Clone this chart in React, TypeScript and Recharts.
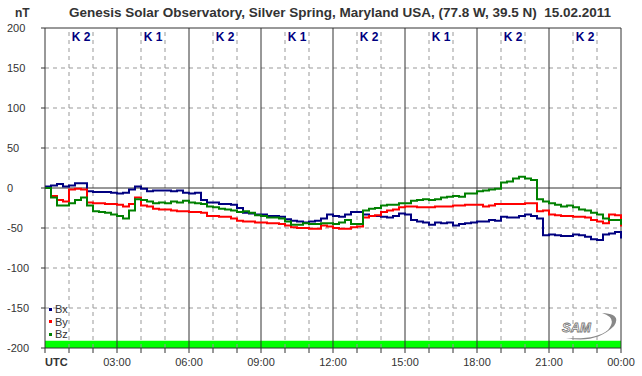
import { LineChart, Line, XAxis, YAxis, ReferenceLine, ReferenceArea } from 'recharts';

// 15-minute samples from 00:00 to 24:00 UTC (nT)
const bx = [2, 3, 5, 2, 3, 6, 6, -4, -5, -5, -5, -6, -7, -6, -2, 2, -1, -4, -3, -3, -3, -4, -3, -6, -7,
  -6, -15, -18, -18, -20, -20, -21, -25, -31, -32, -33, -33, -35, -35, -36, -39, -41, -42, -43, -42, -41, -38, -33, -35,
  -36, -33, -30, -30, -33, -35, -35, -36, -37, -35, -32, -33, -40, -42, -43, -46, -43, -44, -43, -47, -45, -44, -43, -42,
  -42, -40, -41, -36, -37, -37, -35, -33, -35, -38, -59, -58, -59, -60, -60, -58, -59, -61, -64, -65, -58, -57, -55, -63];
const by = [0, -10, -15, -17, -2, -1, -2, -18, -19, -19, -20, -20, -21, -23, -20, -12, -22, -23, -26, -27, -27, -28, -29, -29, -30,
  -30, -31, -35, -35, -36, -36, -38, -41, -42, -42, -43, -43, -44, -44, -45, -47, -49, -50, -50, -51, -51, -47, -48, -50,
  -51, -51, -49, -48, -37, -35, -34, -30, -28, -27, -24, -23, -23, -24, -24, -24, -23, -23, -23, -22, -22, -21, -21, -21,
  -23, -22, -20, -20, -20, -20, -20, -19, -19, -29, -28, -33, -34, -35, -35, -36, -36, -37, -40, -42, -44, -33, -34, -48];
const bz = [0, -12, -22, -22, -19, -15, -12, -22, -29, -30, -31, -33, -35, -38, -28, -14, -15, -17, -19, -18, -19, -17, -18, -16, -18,
  -19, -20, -23, -24, -26, -27, -28, -30, -29, -31, -34, -35, -37, -37, -38, -42, -46, -46, -44, -45, -45, -44, -44, -45,
  -43, -40, -45, -45, -28, -26, -25, -22, -21, -21, -19, -19, -16, -15, -14, -15, -14, -12, -11, -10, -11, -7, -7, -4,
  -3, -2, -1, 7, 8, 12, 14, 12, 10, -14, -17, -19, -21, -23, -22, -24, -27, -28, -31, -33, -38, -40, -40, -46];

const kIndex = ['K 2', 'K 1', 'K 2', 'K 1', 'K 2', 'K 1', 'K 2', 'K 2'];
const hours = Array.from({ length: 25 }, (_, i) => i);
const yTicks = [-200, -150, -100, -50, 0, 50, 100, 150, 200];
const series = [
  { key: 'bx', name: 'Bx', color: '#000080' },
  { key: 'by', name: 'By', color: '#ff0000' },
  { key: 'bz', name: 'Bz', color: '#008000' },
];

const data = bx.map((v, i) => ({ t: i * 0.25, bx: v, by: by[i], bz: bz[i] }));

const FONT = '"Liberation Sans", Arial, sans-serif';

const XTick = ({ x, y, payload }: any) => {
  const h = payload.value;
  if (h % 3 !== 0) return null;
  if (h === 0) {
    return <text x={x} y={y + 11} textAnchor="start" fontSize={11} fontWeight="bold" fill="#333" fontFamily={FONT}>UTC</text>;
  }
  const label = String(h % 24).padStart(2, '0') + ':00';
  return <text x={x} y={y + 11} textAnchor="middle" fontSize={11} fill="#333" fontFamily={FONT}>{label}</text>;
};

const YTick = ({ y, payload }: any) => (
  <text x={7} y={y + 4} textAnchor="start" fontSize={11} fill="#333" fontFamily={FONT}>{payload.value}</text>
);

export default function App() {
  return (
    <div style={{ position: 'absolute', left: 0, top: 0, width: 642, height: 376, background: '#fff', fontFamily: FONT }}>
      <div style={{ position: 'absolute', left: 15, top: 6, fontSize: 12, fontWeight: 'bold', color: '#333' }}>nT</div>
      <div style={{ position: 'absolute', left: 0, width: 680, top: 5, textAlign: 'center', fontSize: 13.5, fontWeight: 'bold', color: '#333', whiteSpace: 'pre' }}>
        {'Genesis Solar Observatory, Silver Spring, Maryland USA, (77.8 W, 39.5 N)  15.02.2011'}
      </div>
      <LineChart width={642} height={376} data={data} margin={{ top: 28, right: 21, bottom: 0, left: 0 }}>
        <XAxis dataKey="t" type="number" domain={[0, 24]} ticks={hours} interval={0} height={28}
          tick={<XTick />} tickSize={5} axisLine={{ stroke: '#333' }} tickLine={{ stroke: '#333' }} />
        <YAxis type="number" domain={[-200, 200]} ticks={yTicks} interval={0} width={45}
          tick={<YTick />} tickSize={4} axisLine={{ stroke: '#333' }} tickLine={{ stroke: '#333' }} />
        <ReferenceArea y1={-200} y2={-191} fill="#00ff00" fillOpacity={1} stroke="none" />
        {yTicks.filter((v) => v !== 0 && Math.abs(v) !== 200).map((v) => (
          <ReferenceLine key={'h' + v} y={v} stroke="#999" strokeDasharray="4 4" />
        ))}
        {hours.filter((h) => h % 3 !== 0).map((h) => (
          <ReferenceLine key={'v' + h} x={h} stroke="#999" strokeDasharray="4 4" />
        ))}
        {hours.filter((h) => h % 3 === 0 && h > 0).map((h) => (
          <ReferenceLine key={'V' + h} x={h} stroke="#333" />
        ))}
        <ReferenceLine y={0} stroke="#333" />
        <ReferenceLine y={200} stroke="#333" />
        {kIndex.map((k, i) => (
          <ReferenceLine key={'k' + i} x={i * 3 + 1.5} stroke="none"
            label={{ value: k, position: 'insideTop', fill: '#000080', fontSize: 12, fontWeight: 'bold', fontFamily: FONT, offset: 4 }} />
        ))}
        {series.map((s) => (
          <Line key={s.key} dataKey={s.key} name={s.name} type="stepAfter" stroke={s.color} strokeWidth={2}
            dot={false} isAnimationActive={false} />
        ))}
      </LineChart>
      <div style={{ position: 'absolute', left: 49, top: 303, fontSize: 11, color: '#333', lineHeight: '12.5px' }}>
        {series.map((s) => (
          <div key={s.key} style={{ display: 'flex', alignItems: 'center' }}>
            <span style={{ display: 'inline-block', width: 3, height: 3, background: s.color, marginRight: 3 }} />
            {s.name}
          </div>
        ))}
      </div>
      <svg style={{ position: 'absolute', left: 556, top: 310 }} width={64} height={32}>
        <path d="M 10 28 Q 40 34 58 16 Q 66 4 46 3 Q 62 8 52 20 Q 40 30 10 28 Z" fill="#888" />
        <text x={6} y={22} fontSize={13} fontStyle="italic" fontWeight="bold" fill="#fff" stroke="#777" strokeWidth={0.8} fontFamily={FONT}>SAM</text>
      </svg>
    </div>
  );
}
